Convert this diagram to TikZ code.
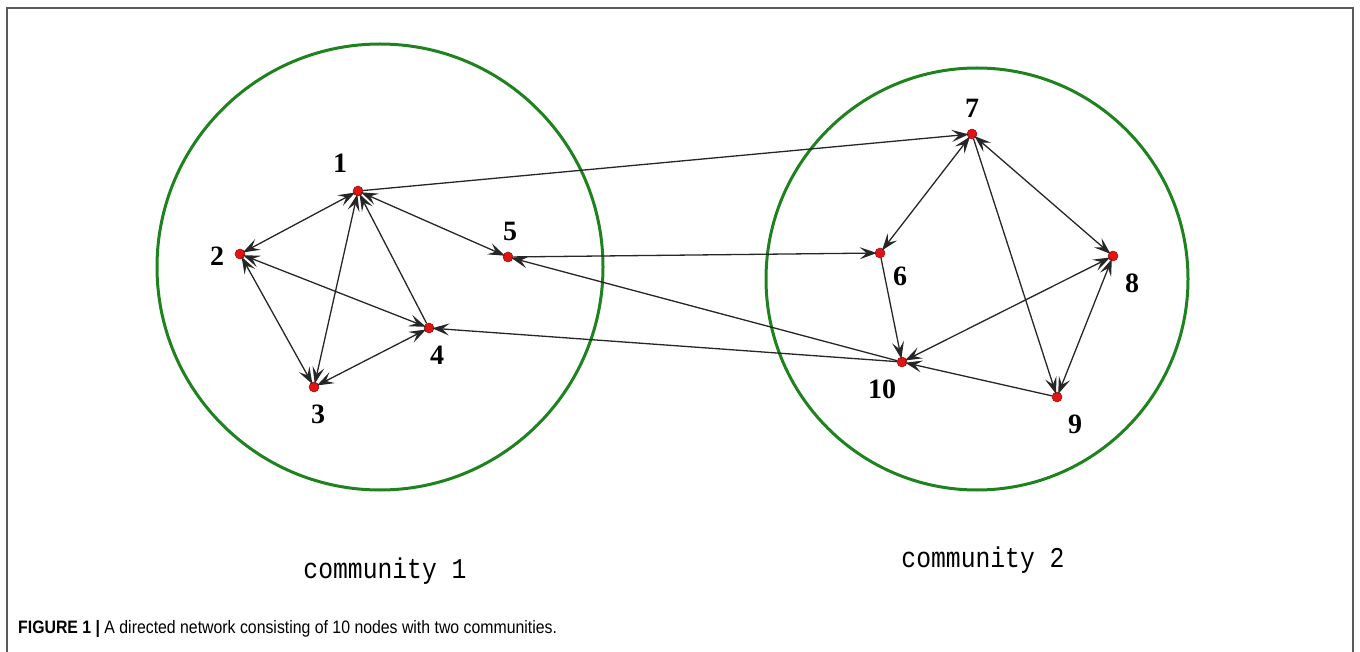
\documentclass[tikz,border=0pt]{standalone}
\usepackage{fontspec}
\setmainfont{Liberation Serif}
\newfontfamily\capfont{Liberation Sans}
\newfontfamily\comfont{Liberation Mono}
\usetikzlibrary{arrows.meta}
\definecolor{comgreen}{RGB}{30,130,30}
\definecolor{dotred}{RGB}{225,20,20}
\definecolor{framegray}{RGB}{90,90,90}
\tikzset{
  tip/.tip={Stealth[length=17pt,width=12pt,inset=7pt]},
  vtx/.style={circle,fill=dotred,draw=dotred!70!black,line width=0.5pt,inner sep=0pt,minimum size=10pt},
  lbl/.style={font=\fontsize{28}{30}\selectfont\bfseries,inner sep=0pt},
  edge/.style={draw=black!85,line width=1.3pt,shorten >=-2pt,-tip},
  bedge/.style={draw=black!85,line width=1.3pt,shorten >=-2pt,shorten <=-2pt,tip-tip},
  community/.style={draw=comgreen,line width=3pt},
  comlbl/.style={font=\comfont\fontsize{26}{28}\selectfont,inner sep=0pt}
}
\begin{document}
\begin{tikzpicture}[x=1pt,y=-1pt]
\useasboundingbox (0,0) rectangle (1360,652);
\draw[framegray,line width=2pt] (7,660) -- (7,8) -- (1353,8) -- (1353,660);
% communities
\draw[community] (380,267) circle (223);
\draw[community] (977,279) circle (211);
% vertices
\node[vtx] (n1) at (358,191) {};
\node[vtx] (n2) at (240,254) {};
\node[vtx] (n3) at (314,387) {};
\node[vtx] (n4) at (429,328) {};
\node[vtx] (n5) at (508,257) {};
\node[vtx] (n6) at (880,253) {};
\node[vtx] (n7) at (972,134) {};
\node[vtx] (n8) at (1113,256) {};
\node[vtx] (n9) at (1057,397) {};
\node[vtx] (n10) at (902,362) {};
% labels
\node[lbl] (l1) at (340,163) {1};
\node[lbl] (l2) at (217,256) {2};
\node[lbl] (l3) at (318,414) {3};
\node[lbl] (l4) at (437,355) {4};
\node[lbl] (l5) at (510,231) {5};
\node[lbl] (l6) at (900,276) {6};
\node[lbl] (l7) at (972,108) {7};
\node[lbl] (l8) at (1132,283) {8};
\node[lbl] (l9) at (1075,424) {9};
\node[lbl] (l10) at (882,389) {10};
% edges community 1
\path[bedge] (n1) -- (n2);
\path[bedge] (n1) -- (n3);
\path[edge] (n4) -- (n1);
\path[bedge] (n1) -- (n5);
\path[bedge] (n2) -- (n3);
\path[bedge] (n2) -- (n4);
\path[bedge] (n3) -- (n4);
% inter-community edges
\path[edge] (n1) -- (n7);
\path[edge] (n5) -- (n6);
\path[edge] (n10) -- (n5);
\path[edge] (n10) -- (n4);
% edges community 2
\path[bedge] (n6) -- (n7);
\path[edge] (n6) -- (n10);
\path[bedge] (n7) -- (n8);
\path[edge] (n7) -- (n9);
\path[bedge] (n8) -- (n10);
\path[bedge] (n8) -- (n9);
\path[edge] (n9) -- (n10);
% community labels
\node[comlbl] (c1) at (385,571) {\scalebox{0.95}[1.1]{community 1}};
\node[comlbl] (c2) at (983,560) {\scalebox{0.95}[1.1]{community 2}};
% caption
\node[anchor=base west,inner sep=0pt,font=\capfont\fontsize{18}{20}\selectfont] (cap) at (18,633)
  {\scalebox{0.88}[1]{\textbf{FIGURE 1 |} A directed network consisting of 10 nodes with two communities.}};
\end{tikzpicture}
\end{document}
